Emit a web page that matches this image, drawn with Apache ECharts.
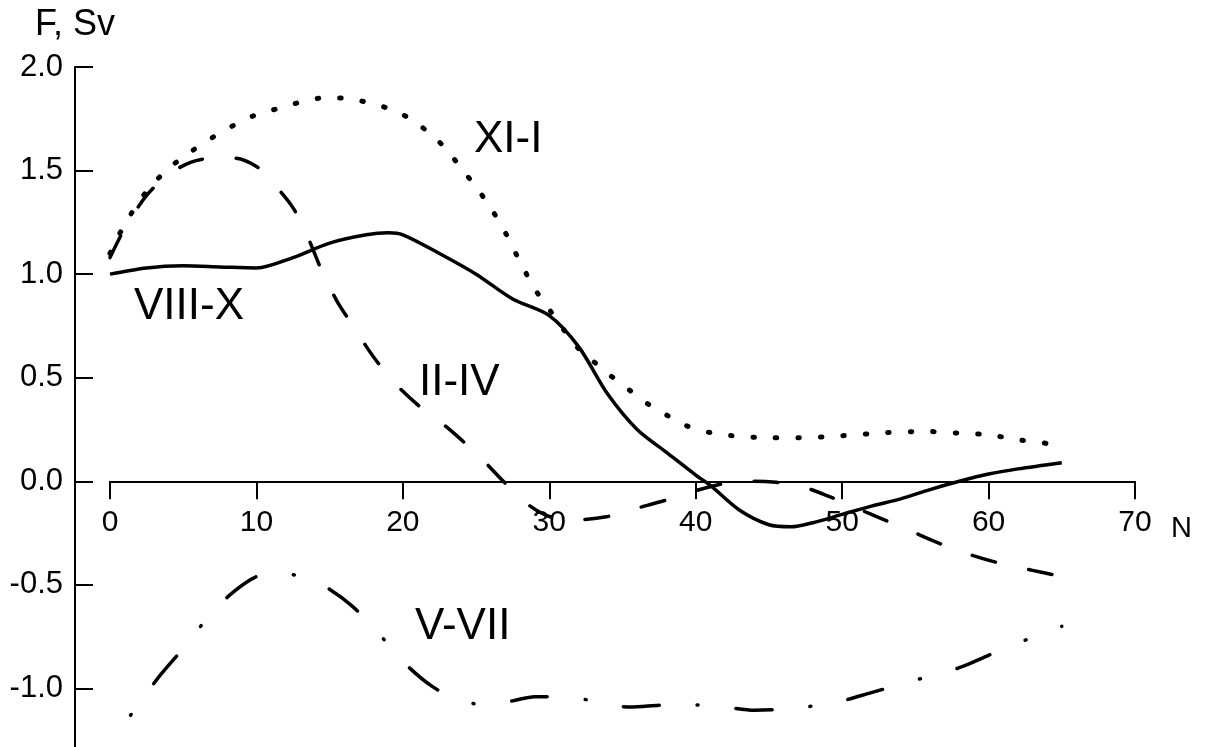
<!DOCTYPE html>
<html>
<head>
<meta charset="utf-8">
<script src="https://cdn.jsdelivr.net/npm/echarts@6/dist/echarts.min.js"></script>
<style>
html,body{margin:0;padding:0;background:#fff;}
#c{width:1205px;height:747px;}
</style>
</head>
<body>
<div id="c"></div>
<script>
// Tick labels / axis info
const xTicks = [0, 10, 20, 30, 40, 50, 60, 70];
const yTicks = [-1.5, -1.0, -0.5, 0.0, 0.5, 1.0, 1.5, 2.0];

// VIII-X (solid)
const xVIII = [0, 2.5, 5, 7.5, 10, 12.5, 15, 17.5, 19, 20, 22.5, 25, 27.5, 30, 32, 34, 36, 38, 40, 41, 43, 45, 46.5, 48, 50, 52, 54, 56, 58, 60, 62, 65];
const yVIII = [1.00, 1.03, 1.04, 1.035, 1.03, 1.08, 1.15, 1.19, 1.20, 1.19, 1.10, 1.00, 0.88, 0.80, 0.65, 0.42, 0.25, 0.14, 0.03, -0.02, -0.14, -0.21, -0.22, -0.20, -0.16, -0.12, -0.085, -0.04, 0.00, 0.035, 0.06, 0.09];

// XI-I (dotted)
const xXI = [0, 1, 2.5, 4, 5.5, 7, 8.5, 10, 11.5, 13, 14.5, 16, 17.5, 19, 20.5, 22, 23, 24, 25, 26, 27, 28, 29, 30, 31, 32, 33, 34, 35.3, 36.6, 38, 39.3, 41, 42.5, 45, 47, 50, 53, 56, 58.5, 60, 62, 63.5, 65];
const yXI = [1.10, 1.24, 1.40, 1.51, 1.59, 1.66, 1.72, 1.77, 1.80, 1.83, 1.85, 1.85, 1.83, 1.80, 1.75, 1.67, 1.60, 1.51, 1.42, 1.32, 1.20, 1.06, 0.93, 0.83, 0.73, 0.64, 0.58, 0.52, 0.45, 0.38, 0.32, 0.27, 0.235, 0.22, 0.21, 0.21, 0.22, 0.235, 0.24, 0.23, 0.225, 0.20, 0.19, 0.16];

// II-IV (dashed)
const xII = [0, 1, 2.5, 4, 5.5, 7, 8.5, 10, 11, 12.5, 13.5, 14.5, 15.5, 16.5, 18, 19.5, 21, 22.5, 24, 25.5, 27, 28.5, 30, 32, 34, 36, 38, 40, 42, 44, 45.5, 47, 49, 51, 53, 55, 57, 59, 61, 63, 65];
const yII = [1.08, 1.22, 1.38, 1.48, 1.54, 1.56, 1.56, 1.52, 1.45, 1.32, 1.18, 1.01, 0.87, 0.76, 0.60, 0.47, 0.37, 0.29, 0.20, 0.10, -0.01, -0.11, -0.17, -0.185, -0.17, -0.13, -0.09, -0.045, -0.01, 0.00, -0.005, -0.02, -0.07, -0.13, -0.19, -0.25, -0.31, -0.36, -0.40, -0.43, -0.46];

// V-VII (dash-dot)
const xV = [0, 1, 2, 3.5, 5.2, 7, 8.5, 10, 11.5, 13, 14.5, 16.5, 18.3, 20, 22, 24, 26, 27.5, 29, 31, 33, 35.5, 38, 40, 42, 44, 46, 48, 50, 52, 54, 56, 58, 60, 62, 64, 65];
const yV = [-1.26, -1.17, -1.07, -0.93, -0.79, -0.63, -0.53, -0.46, -0.44, -0.46, -0.50, -0.60, -0.73, -0.87, -0.99, -1.06, -1.08, -1.06, -1.04, -1.04, -1.06, -1.09, -1.08, -1.08, -1.09, -1.105, -1.10, -1.085, -1.06, -1.02, -0.98, -0.94, -0.90, -0.84, -0.78, -0.73, -0.70];

const curveLabels = ['XI-I', 'VIII-X', 'II-IV', 'V-VII'];

function pairs(xs, ys) { return xs.map((x, i) => [x, ys[i]]); }

const chart = echarts.init(document.getElementById('c'), null, {renderer: 'canvas'});
const FONT = '"Liberation Sans", Arial, sans-serif';

const GRID_TOP = 67, GRID_H = 725;
const yMin = yTicks[0], yMax = yTicks[yTicks.length - 1];
// place the x axis where y = 0 (distance from grid bottom)
const zeroFromBottom = GRID_H * (0 - yMin) / (yMax - yMin);

const option = {
  backgroundColor: '#ffffff',
  animation: false,
  grid: {left: 110, top: GRID_TOP, width: 1025, height: GRID_H, containLabel: false, outerBoundsMode: 'none'},
  xAxis: {
    type: 'value', min: xTicks[0], max: xTicks[xTicks.length - 1], interval: 10,
    position: 'bottom', offset: -zeroFromBottom,
    name: 'N', nameLocation: 'end', nameGap: 36,
    nameTextStyle: {color: '#000', fontFamily: FONT, fontSize: 29, verticalAlign: 'top', padding: [33, 0, 0, 0]},
    axisLine: {onZero: false, lineStyle: {color: '#000', width: 2}},
    axisTick: {inside: false, length: 18, lineStyle: {color: '#000', width: 2}},
    axisLabel: {color: '#000', fontFamily: FONT, fontSize: 30, margin: 26},
    splitLine: {show: false}
  },
  yAxis: {
    type: 'value', min: yMin, max: yMax, interval: 0.5,
    position: 'left', offset: 35,
    name: 'F, Sv', nameLocation: 'end', nameGap: 24,
    nameTextStyle: {color: '#000', fontFamily: FONT, fontSize: 36, align: 'center'},
    axisLine: {onZero: false, lineStyle: {color: '#000', width: 2}},
    axisTick: {inside: true, length: 18, lineStyle: {color: '#000', width: 2}},
    axisLabel: {color: '#000', fontFamily: FONT, fontSize: 31, margin: 12, formatter: v => v.toFixed(1)},
    splitLine: {show: false}
  },
  series: [
    {name: 'XI-I', type: 'line', data: pairs(xXI, yXI), smooth: 0.3, showSymbol: false,
     lineStyle: {color: '#000', width: 5, type: [1.5, 21], cap: 'round'}},
    {name: 'VIII-X', type: 'line', data: pairs(xVIII, yVIII), smooth: 0.3, showSymbol: false,
     lineStyle: {color: '#000', width: 3.5, type: 'solid'}},
    {name: 'II-IV', type: 'line', data: pairs(xII, yII), smooth: 0.3, showSymbol: false,
     lineStyle: {color: '#000', width: 3.5, type: [24, 34], cap: 'round'}},
    {name: 'V-VII', type: 'line', data: pairs(xV, yV), smooth: 0.3, showSymbol: false,
     lineStyle: {color: '#000', width: 3.5, type: [36, 38, 1, 38], cap: 'round', dashOffset: 40}}
  ],
  graphic: [
    {type: 'text', left: 474, top: 118, style: {text: curveLabels[0], font: '44px ' + FONT, fill: '#000'}},
    {type: 'text', left: 134, top: 285, style: {text: curveLabels[1], font: '44px ' + FONT, fill: '#000'}},
    {type: 'text', left: 419, top: 361, style: {text: curveLabels[2], font: '44px ' + FONT, fill: '#000'}},
    {type: 'text', left: 415, top: 605, style: {text: curveLabels[3], font: '44px ' + FONT, fill: '#000'}}
  ]
};
chart.setOption(option);
</script>
</body>
</html>
